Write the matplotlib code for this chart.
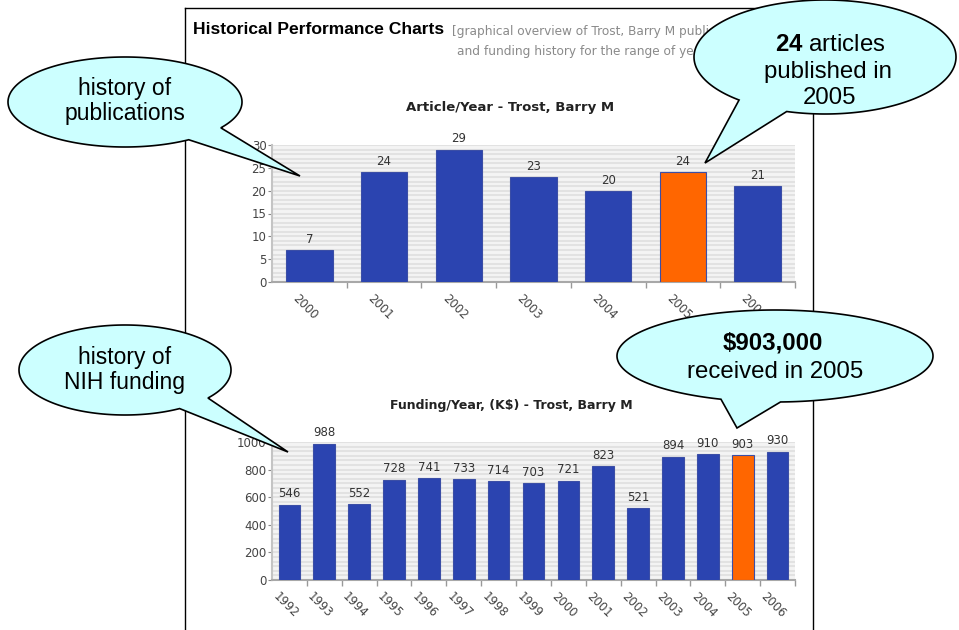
import numpy as np
import matplotlib
matplotlib.use("Agg")
import matplotlib.pyplot as plt
import matplotlib.transforms as mtransforms
from matplotlib.patches import Polygon
from matplotlib.ticker import MultipleLocator, FixedLocator

plt.rcParams["mathtext.fontset"] = "custom"
plt.rcParams["mathtext.rm"] = "Liberation Sans"
plt.rcParams["mathtext.bf"] = "Liberation Sans:bold"

# data
pub_years = ["2000", "2001", "2002", "2003", "2004", "2005", "2006"]
pub_counts = [7, 24, 29, 23, 20, 24, 21]

fund_years = ["1992", "1993", "1994", "1995", "1996", "1997", "1998", "1999",
              "2000", "2001", "2002", "2003", "2004", "2005", "2006"]
fund_k = [546, 988, 552, 728, 741, 733, 714, 703, 721, 823, 521, 894, 910, 903, 930]

highlight = "2005"

BLUE = "#2b44b0"
ORANGE = "#ff6600"
EDGE = "#3b4ea6"
BUBBLE = "#ccffff"
W, H = 959, 630


def draw_bars(ax, labels, values, ymax, ystep):
    x = np.arange(len(labels))
    colors = [ORANGE if lab == highlight else BLUE for lab in labels]
    bars = ax.bar(x, values, width=0.62, color=colors, edgecolor=EDGE,
                  linewidth=0.8, zorder=3)
    ax.set_xlim(-0.5, len(labels) - 0.5)
    ax.set_ylim(0, ymax)
    ax.set_facecolor("#f4f4f4")
    for yy in np.linspace(0, ymax, 31):
        ax.axhline(yy, color="#e2e2e2", lw=1.5, zorder=1)

    for side in ("top", "right"):
        ax.spines[side].set_visible(False)
    ax.spines["left"].set_color("#c4c4c4")
    ax.spines["left"].set_linewidth(1.5)
    ax.spines["bottom"].set_color("#a8a8a8")
    ax.spines["bottom"].set_linewidth(1.5)

    ax.yaxis.set_major_locator(MultipleLocator(ystep))
    ax.tick_params(axis="y", length=3, color="#888888", labelcolor="#444444",
                   labelsize=8.5, pad=1)
    ax.set_xticks(x)
    ax.set_xticklabels(labels, rotation=-45, ha="center", va="top")
    ax.xaxis.set_minor_locator(FixedLocator(np.arange(0.5, len(labels) - 0.5 + 0.01, 1.0)))
    ax.tick_params(axis="x", which="major", length=0, labelcolor="#444444",
                   labelsize=8.5, pad=7)
    ax.tick_params(axis="x", which="minor", length=4, color="#999999", width=1)
    shift = mtransforms.ScaledTranslation(-3 / 72, 0, ax.figure.dpi_scale_trans)
    for lab in ax.get_xticklabels():
        lab.set_transform(lab.get_transform() + shift)

    for rect, v in zip(bars, values):
        ax.annotate(str(v), (rect.get_x() + rect.get_width() / 2, v),
                    xytext=(0, 3), textcoords="offset points", ha="center",
                    va="bottom", fontsize=8.5, color="#333333")


def bubble(ax, cx, cy, a, b, t_from, t_to, tip):
    t = np.radians(np.linspace(t_from, t_to, 300))
    pts = np.column_stack([cx + a * np.cos(t), cy + b * np.sin(t)])
    pts = np.vstack([pts, tip])
    ax.add_patch(Polygon(pts, closed=True, facecolor=BUBBLE, edgecolor="black",
                         linewidth=1.2, zorder=5))


fig = plt.figure(figsize=(W / 100, H / 100), dpi=100)
fig.patch.set_facecolor("white")

ax_top = fig.add_axes([272 / W, 1 - 282 / H, (795 - 272) / W, (282 - 145) / H])
draw_bars(ax_top, pub_years, pub_counts, 30, 5)

ax_bot = fig.add_axes([272 / W, 1 - 580 / H, (795 - 272) / W, (580 - 442) / H])
draw_bars(ax_bot, fund_years, fund_k, 1000, 200)

# overlay in pixel coordinates for the page frame and callouts
ov = fig.add_axes([0, 0, 1, 1], zorder=10)
ov.set_xlim(0, W)
ov.set_ylim(H, 0)
ov.axis("off")
ov.patch.set_alpha(0)

ov.plot([185, 185], [8, H + 5], color="black", lw=1, zorder=2)
ov.plot([185, 813], [8, 8], color="black", lw=1, zorder=2)
ov.plot([813, 813], [8, H + 5], color="black", lw=1, zorder=2)

ov.text(193, 30, "Historical Performance Charts", family="Liberation Sans",
        fontweight="bold", fontsize=12.6, va="center", ha="left", zorder=3)
ov.text(452, 32, "[graphical overview of Trost, Barry M publication",
        fontsize=8.7, color="#8a8a8a", va="center", ha="left", zorder=3)
ov.text(457, 52, "and funding history for the range of years]",
        fontsize=8.7, color="#8a8a8a", va="center", ha="left", zorder=3)

ov.text(510, 107, "Article/Year - Trost, Barry M", fontsize=9.5, fontweight="bold",
        color="#222222", ha="center", va="center", zorder=3)
ov.text(511, 405, "Funding/Year, (K$) - Trost, Barry M", fontsize=9,
        fontweight="bold", color="#222222", ha="center", va="center", zorder=3)

bubble(ov, 125, 102, 117, 45, 57, 395, (300, 176))
bubble(ov, 825, 57, 131, 57, 131, 467, (705, 163))
bubble(ov, 125, 370, 106, 45, 59, 398.5, (288, 452))
bubble(ov, 775, 356, 158, 46, 110, 448, (737, 428))

left_txt = dict(family="Liberation Sans", fontsize=16.5, ha="center", va="center", zorder=6)
right_txt = dict(family="Liberation Sans", fontsize=17.3, ha="center", va="center", zorder=6)
ov.text(125, 101, "history of\npublications", linespacing=1.15, **left_txt)
ov.text(125, 370, "history of\nNIH funding", linespacing=1.15, **left_txt)
ov.text(830, 45, r"$\mathbf{24}$ articles", **right_txt)
ov.text(828, 72, "published in", **right_txt)
ov.text(830, 98, "2005", **right_txt)
ov.text(773, 343, "$903,000", fontweight="bold", **right_txt)
ov.text(775, 372, "received in 2005", **right_txt)

fig.savefig("out.png", dpi=100)
